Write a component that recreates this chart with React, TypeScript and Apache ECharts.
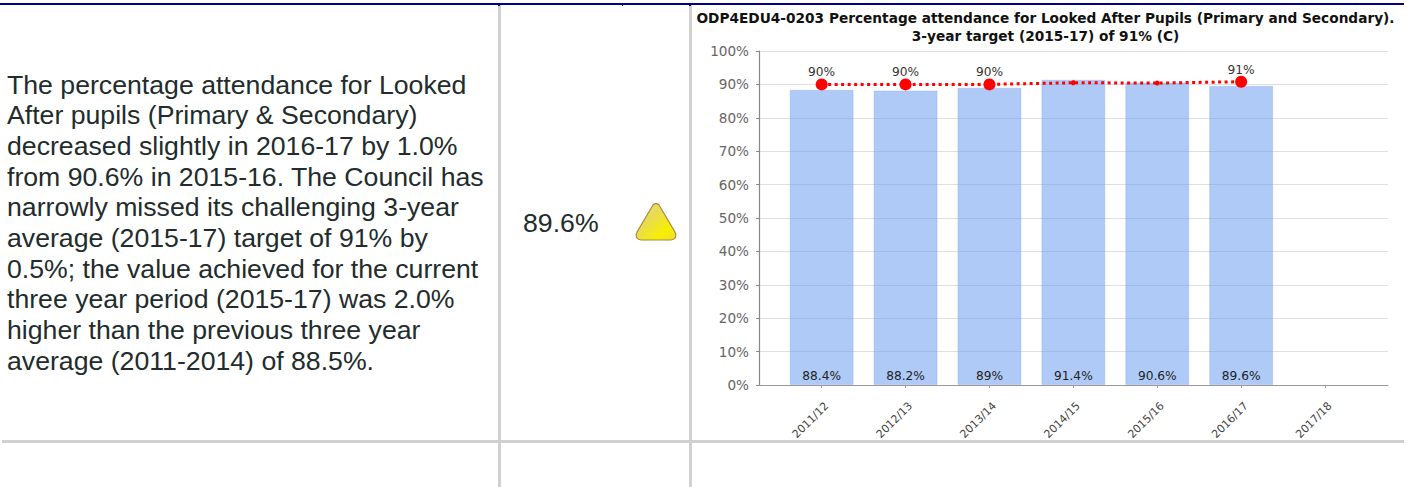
import React, { useEffect, useRef } from "react";
import * as echarts from "echarts";

const categories = ["2011/12", "2012/13", "2013/14", "2014/15", "2015/16", "2016/17", "2017/18"];
const actualValues: (number | null)[] = [88.4, 88.2, 89, 91.4, 90.6, 89.6, null];
const targetValues: (number | null)[] = [90, 90, 90, 90.5, 90.4, 90.8, null];
const targetLabelled = [true, true, true, false, false, true, false];
const yTicksMax = 100;
const titleLines = "ODP4EDU4-0203 Percentage attendance for Looked After Pupils (Primary and Secondary).\n3-year target (2015-17) of 91% (C)";
const commentary = [
  "The percentage attendance for Looked",
  "After pupils (Primary & Secondary)",
  "decreased slightly in 2016-17 by 1.0%",
  "from 90.6% in 2015-16. The Council has",
  "narrowly missed its challenging 3-year",
  "average (2015-17) target of 91% by",
  "0.5%; the value achieved for the current",
  "three year period (2015-17) was 2.0%",
  "higher than the previous three year",
  "average (2011-2014) of 88.5%.",
];
const latestValue = "89.6%";

echarts.graphic.registerShape(
  "warnTriangle",
  echarts.graphic.extendPath("M17 2 Q20 -1 23 2 L39 29 Q42 36 35 37 L5 37 Q-2 36 1 29 Z", {})
);

const TEXT = "#222c2c";
const GREY = "#d0d0d0";
const NAVY = "#00008b";
const CHART_FONT = "'DejaVu Sans', sans-serif";

export default function App() {
  const ref = useRef<HTMLDivElement>(null);
  useEffect(() => {
    document.body.style.margin = "0";
    const chart = echarts.init(ref.current!, undefined, { renderer: "svg" });
    const rect = (x: number, y: number, width: number, height: number, fill: string) => ({
      type: "rect",
      shape: { x, y, width, height },
      style: { fill },
      silent: true,
    });
    chart.setOption({
      animation: false,
      backgroundColor: "#ffffff",
      title: {
        text: titleLines,
        left: 1040.5,
        top: 3.5,
        textAlign: "center",
        textStyle: { fontFamily: CHART_FONT, fontSize: 13.7, fontWeight: "bold", color: "#111", lineHeight: 18 },
      },
      grid: [
        { left: 759, right: 22, top: 51, height: 334 },
        { left: 779.7, right: 43, top: 51, height: 334 },
      ],
      xAxis: [
        {
          gridIndex: 0,
          type: "value",
          min: 0,
          max: 1,
          axisLine: { show: true, onZero: false, lineStyle: { color: "#999", width: 1.2 } },
          axisTick: { show: false },
          axisLabel: { show: false },
          splitLine: { show: false },
        },
        {
          gridIndex: 1,
          type: "category",
          data: categories,
          axisLine: { show: false },
          axisTick: { show: true, alignWithLabel: true, length: 3, lineStyle: { color: "#999" } },
          axisLabel: {
            interval: 0,
            rotate: 45,
            margin: 24,
            padding: [0, -7, 0, 0],
            fontFamily: CHART_FONT,
            fontSize: 11,
            color: "#444",
          },
          splitLine: { show: false },
        },
      ],
      yAxis: [
        {
          gridIndex: 0,
          type: "value",
          min: 0,
          max: yTicksMax,
          interval: 10,
          axisLine: { show: true, lineStyle: { color: "#888", width: 1.2 } },
          axisTick: { show: true, length: 3, lineStyle: { color: "#888" } },
          axisLabel: { formatter: "{value}%", margin: 10, fontFamily: CHART_FONT, fontSize: 13.6, color: "#666" },
          splitLine: { show: true, lineStyle: { color: "#e0e0e0", width: 1 } },
        },
        {
          gridIndex: 1,
          type: "value",
          min: 0,
          max: yTicksMax,
          interval: 10,
          show: false,
          splitLine: { show: false },
        },
      ],
      series: [
        {
          type: "bar",
          xAxisIndex: 1,
          yAxisIndex: 1,
          data: actualValues,
          barWidth: 64,
          itemStyle: { color: "rgba(102,153,238,0.52)", borderColor: "rgba(102,153,238,0.25)", borderWidth: 1 },
          label: {
            show: true,
            position: "insideBottom",
            distance: 3,
            formatter: "{c}%",
            fontFamily: CHART_FONT,
            fontSize: 12.2,
            color: "#222",
          },
          z: 2,
        },
        {
          type: "line",
          xAxisIndex: 1,
          yAxisIndex: 1,
          data: targetValues.map((value, i) => ({
            value,
            symbolSize: targetLabelled[i] ? 12 : 5,
            label: {
              show: targetLabelled[i],
              position: "top",
              distance: 0,
              formatter: (p: any) => `${Math.round(p.value)}%`,
              fontFamily: CHART_FONT,
              fontSize: 12.2,
              color: "#333",
            },
          })),
          symbol: "circle",
          itemStyle: { color: "#ff0000" },
          lineStyle: { color: "#ff0000", width: 3, type: [3, 3.5] },
          z: 3,
        },
      ],
      graphic: [
        rect(0, 3, 1404, 2, NAVY),
        rect(498, 5, 3, 482, GREY),
        rect(689, 5, 3, 482, GREY),
        rect(2, 440, 1402, 3, GREY),
        rect(498, 5, 2, 1, NAVY),
        rect(622, 5, 1, 1, NAVY),
        rect(689, 5, 2, 1, NAVY),
        ...commentary.map((text, i) => ({
          type: "text",
          x: 7,
          y: 84.5 + i * 30.7,
          style: {
            text,
            fontFamily: "'Liberation Sans', Arial, sans-serif",
            fontSize: 26.67,
            fill: TEXT,
            verticalAlign: "middle",
          },
        })),
        {
          type: "text",
          x: 523,
          y: 223,
          style: {
            text: latestValue,
            fontFamily: "'Liberation Sans', Arial, sans-serif",
            fontSize: 26.67,
            fill: TEXT,
            verticalAlign: "middle",
          },
        },
        {
          type: "warnTriangle",
          x: 636,
          y: 203,
          style: {
            fill: new echarts.graphic.LinearGradient(0, 0, 1, 1, [
              { offset: 0, color: "#e4d68c" },
              { offset: 0.4, color: "#e8dc50" },
              { offset: 0.75, color: "#f8f000" },
              { offset: 1, color: "#eedd30" },
            ]),
            stroke: "#a88a3c",
            lineWidth: 1.2,
          },
        },
      ],
    });
    return () => chart.dispose();
  }, []);
  return <div ref={ref} style={{ width: 1410, height: 487 }} />;
}
